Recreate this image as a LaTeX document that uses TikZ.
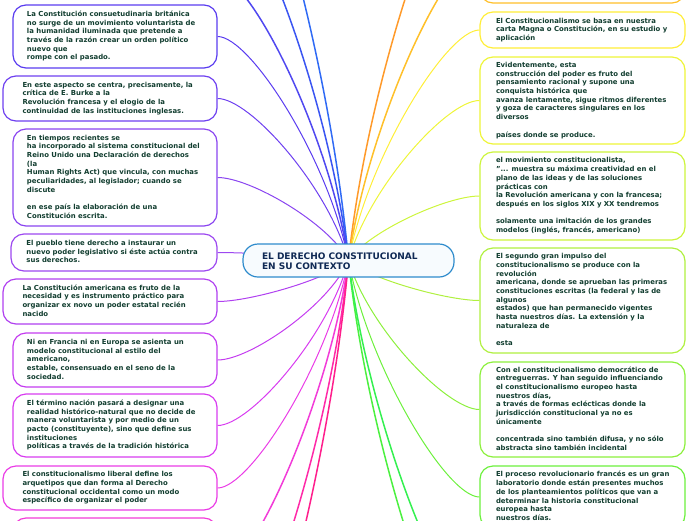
\documentclass[tikz,border=0pt]{standalone}
\usepackage{fontspec}
\setmainfont{DejaVu Sans}
\usetikzlibrary{calc,backgrounds}
\definecolor{txt}{HTML}{123E30}
\definecolor{ctxt}{HTML}{102A55}
\definecolor{cbord}{HTML}{2E8BCC}
\definecolor{cfill}{HTML}{F7FBFE}
\definecolor{cT1}{HTML}{2F6AF5}
\definecolor{cT2}{HTML}{3A55F2}
\definecolor{cT3}{HTML}{5048F0}
\definecolor{cL1}{HTML}{5A3CF0}
\definecolor{cL2}{HTML}{6E40F0}
\definecolor{cL3}{HTML}{8A45F0}
\definecolor{cL4}{HTML}{9D48F0}
\definecolor{cL5}{HTML}{B040F0}
\definecolor{cL6}{HTML}{C43CF0}
\definecolor{cL7}{HTML}{D83CF0}
\definecolor{cL8}{HTML}{EA3CE6}
\definecolor{cL9}{HTML}{F23CD8}
\definecolor{cP1}{HTML}{FF2AA8}
\definecolor{cP2}{HTML}{FF1E8C}
\definecolor{cO1}{HTML}{FF9A2A}
\definecolor{cR0}{HTML}{FFC02A}
\definecolor{cR1}{HTML}{FFEE38}
\definecolor{cR2}{HTML}{EEF538}
\definecolor{cR3}{HTML}{CDF53C}
\definecolor{cR4}{HTML}{B0F040}
\definecolor{cR5}{HTML}{8CF03C}
\definecolor{cR6}{HTML}{6CF03C}
\definecolor{cG1}{HTML}{4CF040}
\definecolor{cG2}{HTML}{34F050}
\newcommand\boxtxt[2]{\makebox[#1][l]{\begin{tabular}{@{}l@{}}#2\end{tabular}}}
\newcommand\mycn[2]{\draw[#1] let \p1=(ctr.center), \p2=(#2) in (\p1) .. controls ({\x1-0.15*(\x1-\x2)},{\y1+0.45*(\y2-\y1)}) and ({\x2+0.25*(\x1-\x2)},\y2) .. (\p2);}
\tikzset{
  leaf/.style={draw=#1, line width=1.2pt, rounded corners=13pt, fill=white, inner sep=0pt,
    font=\fontsize{6.9}{8.7}\selectfont\bfseries, text=txt},
  conn/.style={draw=#1, line width=1pt},
  connfar/.style={draw=#1, line width=1.5pt},
}
\begin{document}
\begin{tikzpicture}[x=1pt,y=-1pt]
\useasboundingbox (0,0) rectangle (696,520);
% central node
\node[draw=cbord, line width=1.2pt, fill=cfill, rounded corners=15pt, minimum width=211pt, minimum height=33pt,
  inner sep=0pt, font=\fontsize{9}{10.7}\selectfont\bfseries, text=ctxt] (ctr) at (348.5,260.5)
  {\raisebox{0pt}[\dimexpr\height+4pt\relax]{\boxtxt{173pt}{EL DERECHO CONSTITUCIONAL\\EN SU CONTEXTO}}};
% left leaves
\node[leaf=cL1, minimum width=204pt, minimum height=63pt] (L1) at (115,36.5) {\boxtxt{176pt}{La Constitución consuetudinaria británica\\no surge de un movimiento voluntarista de\\la humanidad iluminada que pretende a\\través de la razón crear un orden político\\nuevo que\\rompe con el pasado.}};
\node[leaf=cL2, minimum width=214pt, minimum height=45pt] (L2) at (110,98.5) {\boxtxt{175pt}{En este aspecto se centra, precisamente, la\\crítica de E. Burke a la\\Revolución francesa y el elogio de la\\continuidad de las instituciones inglesas.}};
\node[leaf=cL3, minimum width=204pt, minimum height=97pt] (L3) at (115,177.5) {\boxtxt{176pt}{En tiempos recientes se\\ha incorporado al sistema constitucional del\\Reino Unido una Declaración de derechos\\(la\\Human Rights Act) que vincula, con muchas\\peculiaridades, al legislador; cuando se\\discute\\ \\en ese país la elaboración de una\\Constitución escrita.}};
\node[leaf=cL4, minimum width=206pt, minimum height=37pt] (L4) at (114,252.5) {\boxtxt{175pt}{El pueblo tiene derecho a instaurar un\\nuevo poder legislativo si éste actúa contra\\sus derechos.}};
\node[leaf=cL5, minimum width=214pt, minimum height=45pt] (L5) at (110,301.5) {\boxtxt{175pt}{La Constitución americana es fruto de la\\necesidad y es instrumento práctico para\\organizar ex novo un poder estatal recién\\nacido}};
\node[leaf=cL6, minimum width=204pt, minimum height=54pt] (L6) at (115,360) {\boxtxt{176pt}{Ni en Francia ni en Europa se asienta un\\modelo constitucional al estilo del\\americano,\\estable, consensuado en el seno de la\\sociedad.}};
\node[leaf=cL7, minimum width=204pt, minimum height=63pt] (L7) at (115,425.5) {\boxtxt{176pt}{El término nación pasará a designar una\\realidad histórico-natural que no decide de\\manera voluntarista y por medio de un\\pacto (constituyente), sino que define sus\\instituciones\\políticas a través de la tradición histórica}};
\node[leaf=cL8, minimum width=214pt, minimum height=44pt] (L8) at (110,488) {\boxtxt{175pt}{El constitucionalismo liberal define los\\arquetipos que dan forma al Derecho\\constitucional occidental como un modo\\específico de organizar el poder}};
\node[leaf=cL9, minimum width=204pt, minimum height=112pt] (L9) at (115,574) {};
% right leaves
\node[leaf=cR0, minimum width=205pt, minimum height=96pt] (R0) at (582.5,-45) {};
\node[leaf=cR1, minimum width=205pt, minimum height=36pt] (R1) at (582.5,30) {\boxtxt{173pt}{El Constitucionalismo se basa en nuestra\\carta Magna o Constitución, en su estudio y\\aplicación}};
\node[leaf=cR2, minimum width=205pt, minimum height=87pt] (R2) at (582.5,100.5) {\boxtxt{173pt}{Evidentemente, esta\\construcción del poder es fruto del\\pensamiento racional y supone una\\conquista histórica que\\avanza lentamente, sigue ritmos diferentes\\y goza de caracteres singulares en los\\diversos\\ \\países donde se produce.}};
\node[leaf=cR3, minimum width=205pt, minimum height=88pt] (R3) at (582.5,196) {\boxtxt{173pt}{el movimiento constitucionalista,\\"... muestra su máxima creatividad en el\\plano de las ideas y de las soluciones\\prácticas con\\la Revolución americana y con la francesa;\\después en los siglos XIX y XX tendremos\\ \\solamente una imitación de los grandes\\modelos (inglés, francés, americano)}};
\node[leaf=cR4, minimum width=205pt, minimum height=105pt] (R4) at (582.5,300.5) {\boxtxt{173pt}{El segundo gran impulso del\\constitucionalismo se produce con la\\revolución\\americana, donde se aprueban las primeras\\constituciones escritas (la federal y las de\\algunos\\estados) que han permanecido vigentes\\hasta nuestros días. La extensión y la\\naturaleza de\\ \\esta}};
\node[leaf=cR5, minimum width=205pt, minimum height=95pt] (R5) at (582.5,409.5) {\boxtxt{173pt}{Con el constitucionalismo democrático de\\entreguerras. Y han seguido influenciando\\el constitucionalismo europeo hasta\\nuestros días,\\a través de formas eclécticas donde la\\jurisdicción constitucional ya no es\\únicamente\\ \\concentrada sino también difusa, y no sólo\\abstracta sino también incidental}};
\node[leaf=cR6, minimum width=205pt, minimum height=62pt] (R6) at (582.5,497) {\boxtxt{173pt}{El proceso revolucionario francés es un gran\\laboratorio donde están presentes muchos\\de los planteamientos políticos que van a\\determinar la historia constitucional\\europea hasta\\nuestros días.}};
% free ends of branches leaving the picture
\coordinate (oT1) at (217,-220);
\coordinate (oT2) at (217,-110);
\coordinate (oT3) at (217,-25);
\coordinate (oO1) at (480,-150);
\coordinate (oP1) at (217,680);
\coordinate (oP2) at (217,760);
\coordinate (oG1) at (480,680);
\coordinate (oG2) at (480,620);
\begin{pgfonlayer}{background}
\mycn{connfar=cT1}{oT1}
\mycn{connfar=cT2}{oT2}
\mycn{connfar=cT3}{oT3}
\mycn{conn=cL1}{L1.east}
\mycn{conn=cL2}{L2.east}
\mycn{conn=cL3}{L3.east}
\mycn{conn=cL4}{L4.east}
\mycn{conn=cL5}{L5.east}
\mycn{conn=cL6}{L6.east}
\mycn{conn=cL7}{L7.east}
\mycn{conn=cL8}{L8.east}
\mycn{connfar=cL9}{L9.east}
\mycn{connfar=cP1}{oP1}
\mycn{connfar=cP2}{oP2}
\mycn{connfar=cO1}{oO1}
\mycn{connfar=cR0}{R0.west}
\mycn{conn=cR1}{R1.west}
\mycn{conn=cR2}{R2.west}
\mycn{conn=cR3}{R3.west}
\mycn{conn=cR4}{R4.west}
\mycn{conn=cR5}{R5.west}
\mycn{conn=cR6}{R6.west}
\mycn{connfar=cG1}{oG1}
\mycn{connfar=cG2}{oG2}
\end{pgfonlayer}
\end{tikzpicture}
\end{document}
